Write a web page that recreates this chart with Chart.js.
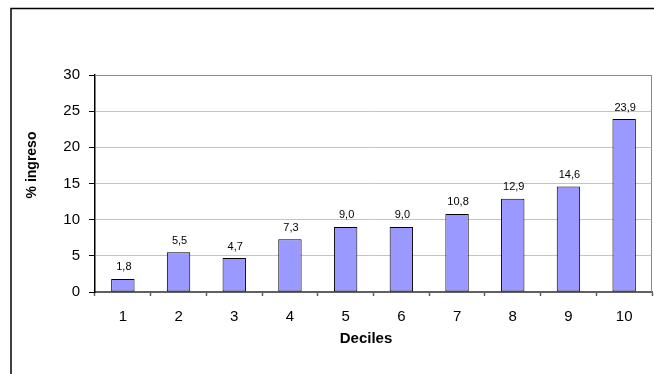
<!DOCTYPE html>
<html>
<head>
<meta charset="utf-8">
<script src="https://cdn.jsdelivr.net/npm/chart.js@4"></script>
<style>
  html, body { margin: 0; padding: 0; background: #fff; }
  canvas { display: block; }
</style>
</head>
<body>
<canvas id="c" width="654" height="374"></canvas>
<script>
// Income share by decile
const categories = ['1', '2', '3', '4', '5', '6', '7', '8', '9', '10'];
const incomeShare = [1.8, 5.5, 4.7, 7.3, 9.0, 9.0, 10.8, 12.9, 14.6, 23.9];
const yMin = 0;
const yMax = 30;
const yStep = 5;
const xTitle = 'Deciles';
const yTitle = '% ingreso';

const FONT = '"Liberation Sans", Arial, sans-serif';

// Outer frame, plot-area border, axis titles and value labels
const decorations = {
  id: 'decorations',
  beforeDraw(chart) {
    const ctx = chart.ctx;
    ctx.save();
    ctx.strokeStyle = '#000';
    ctx.lineWidth = 1.5;
    ctx.beginPath();
    ctx.moveTo(11, chart.height);
    ctx.lineTo(11, 8.5);
    ctx.lineTo(chart.width, 8.5);
    ctx.stroke();
    ctx.restore();
  },
  beforeDatasetsDraw(chart) {
    const {ctx, chartArea: a} = chart;
    ctx.save();
    ctx.strokeStyle = '#8a8a8a';
    ctx.lineWidth = 1;
    ctx.beginPath();
    ctx.moveTo(a.left, a.top + 0.5);
    ctx.lineTo(a.right - 0.5, a.top + 0.5);
    ctx.lineTo(a.right - 0.5, a.bottom);
    ctx.stroke();
    ctx.restore();
  },
  afterDatasetsDraw(chart) {
    const {ctx, chartArea: a} = chart;
    ctx.save();
    // value labels above the bars
    ctx.fillStyle = '#000';
    ctx.font = '11px ' + FONT;
    ctx.textAlign = 'center';
    ctx.textBaseline = 'alphabetic';
    const meta = chart.getDatasetMeta(0);
    meta.data.forEach((bar, i) => {
      const v = chart.data.datasets[0].data[i];
      ctx.fillText(v.toFixed(1).replace('.', ','), bar.x + 1, bar.y - 8.5);
    });
    // x-axis title
    ctx.font = 'bold 15px ' + FONT;
    ctx.fillText(xTitle, a.left + 271, a.bottom + 51);
    // y-axis title
    ctx.translate(a.left - 59, a.top + 90);
    ctx.rotate(-Math.PI / 2);
    ctx.font = 'bold 14px ' + FONT;
    ctx.fillText(yTitle, 0, 0);
    ctx.restore();
  }
};

new Chart(document.getElementById('c'), {
  type: 'bar',
  data: {
    labels: categories,
    datasets: [{
      data: incomeShare,
      backgroundColor: '#9999ff',
      borderColor: '#000',
      borderWidth: 1,
      borderSkipped: false,
      barPercentage: 0.42,
      categoryPercentage: 1
    }]
  },
  options: {
    responsive: false,
    animation: false,
    devicePixelRatio: 1,
    layout: { padding: { left: 10, top: 75, right: 2, bottom: 0 } },
    plugins: {
      legend: { display: false },
      tooltip: { enabled: false },
      title: { display: false }
    },
    scales: {
      x: {
        afterFit(s) { s.height = 82; },
        grid: {
          offset: true,
          drawOnChartArea: false,
          drawTicks: true,
          tickLength: 4,
          tickColor: '#606060',
          tickWidth: 1.5
        },
        border: { display: true, color: '#606060', width: 2 },
        ticks: {
          color: '#000',
          padding: 12,
          font: { family: FONT, size: 15 },
          maxRotation: 0
        }
      },
      y: {
        min: yMin,
        max: yMax,
        afterFit(s) { s.width = 85; },
        afterBuildTicks(s) {
          const t = [];
          for (let v = yMin; v <= yMax; v += yStep) t.push({ value: v });
          s.ticks = t;
        },
        grid: {
          color: '#c4c4c4',
          lineWidth: 1,
          drawTicks: true,
          tickLength: 6,
          tickColor: '#000'
        },
        border: { display: true, color: '#000', width: 1.5 },
        ticks: {
          color: '#000',
          padding: 9,
          font: { family: FONT, size: 15 }
        }
      }
    }
  },
  plugins: [decorations]
});
</script>
</body>
</html>
